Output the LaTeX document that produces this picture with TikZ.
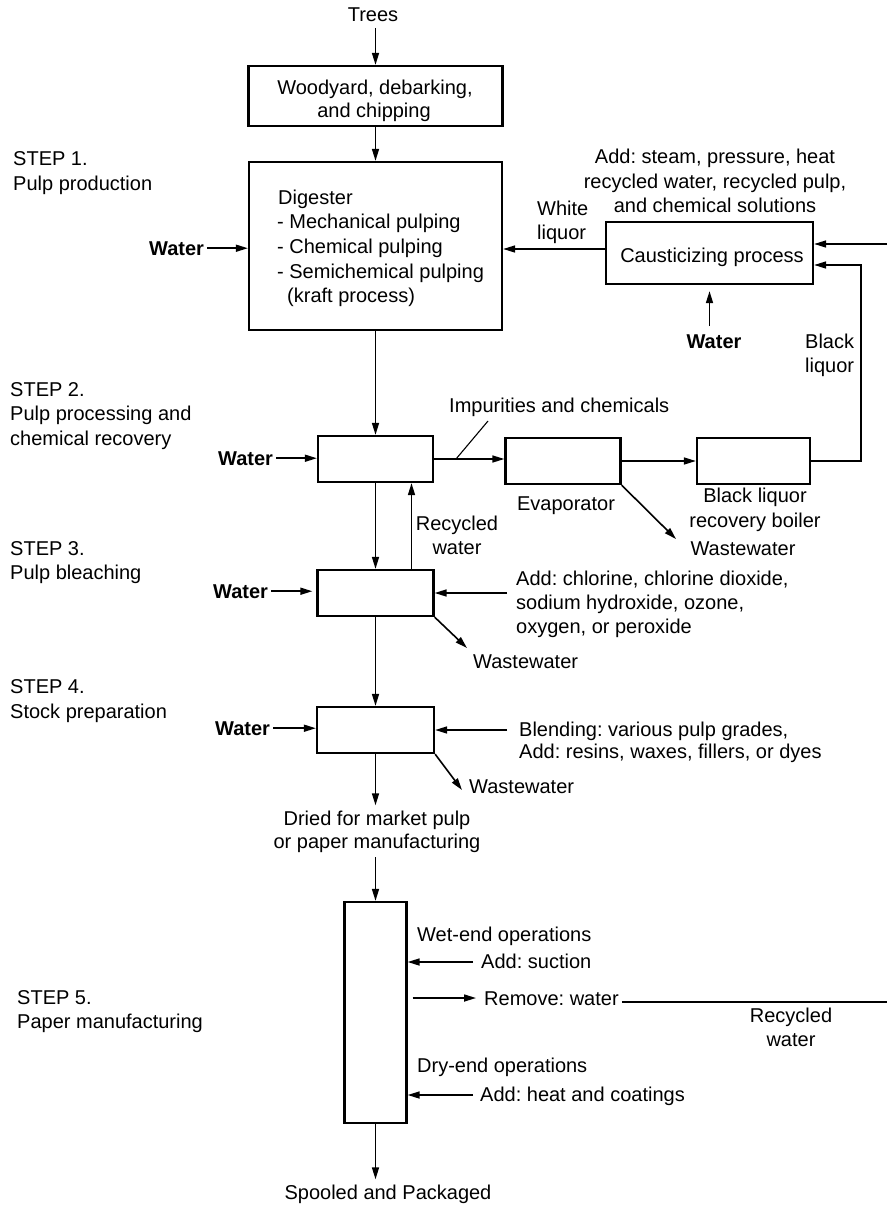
\documentclass[tikz,border=0pt]{standalone}
\usepackage{fontspec}
\setmainfont{Liberation Sans}
\usetikzlibrary{arrows.meta}
\frenchspacing
\tikzset{
  box/.style={draw, line width=2.3pt, inner sep=0pt},
  txt/.style={inner sep=0pt, font=\fontsize{20}{24}\selectfont},
  bw/.style={inner sep=0pt, font=\fontsize{20}{24}\selectfont\bfseries},
  arr/.style={line width=1.6pt, -{Triangle[length=12pt,width=7pt]}},
  ln/.style={line width=1.6pt},
  leader/.style={line width=1.1pt},
}
\begin{document}
\begin{tikzpicture}[x=1pt,y=-1pt]
\useasboundingbox (0,0) rectangle (887,1207);

% ---------- boxes ----------
\node[box, minimum width=254pt, minimum height=60pt] (wood) at (375.5,96) {};
\node[box, minimum width=253pt, minimum height=168pt] (dig) at (375.5,246) {};
\node[box, minimum width=207pt, minimum height=62pt] (caus) at (709.5,253) {};
\node[box, minimum width=115pt, minimum height=46pt] (b2) at (375.5,459) {};
\node[box, minimum width=115pt, minimum height=46pt] (evap) at (563,461) {};
\node[box, minimum width=113pt, minimum height=46pt] (boil) at (753.5,461) {};
\node[box, minimum width=116pt, minimum height=46pt] (b3) at (375.5,593) {};
\node[box, minimum width=117pt, minimum height=46pt] (b4) at (375.5,730) {};
\node[box, minimum width=62pt, minimum height=221pt] (pm) at (375.5,1012.5) {};

% ---------- texts ----------
\node[txt, anchor=base] (trees) at (373,22) {Trees};
\node[txt, anchor=base] (wood1) at (375,95) {Woodyard, debarking,};
\node[txt, anchor=base] (wood2) at (374,117) {and chipping};

\node[txt, anchor=base west] (s1a) at (13,165) {STEP 1.};
\node[txt, anchor=base west] (s1b) at (13,190) {Pulp production};

\node[txt, anchor=base west] (dg1) at (278,204) {Digester};
\node[txt, anchor=base west] (dg2) at (277,228) {- Mechanical pulping};
\node[txt, anchor=base west] (dg3) at (277,253) {- Chemical pulping};
\node[txt, anchor=base west] (dg4) at (277,278) {- Semichemical pulping};
\node[txt, anchor=base west] (dg5) at (287,302) {(kraft process)};

\node[bw, anchor=base west] (w1) at (149,255) {Water};

\node[txt, anchor=base] (add1) at (715,163) {Add: steam, pressure, heat};
\node[txt, anchor=base] (add2) at (715,188) {recycled water, recycled pulp,};
\node[txt, anchor=base] (add3) at (715,212) {and chemical solutions};

\node[txt, anchor=base west] (wl1) at (537,215) {White};
\node[txt, anchor=base west] (wl2) at (537,239) {liquor};

\node[txt, anchor=base] (caust) at (712,262) {Causticizing process};
\node[bw, anchor=base] (wc) at (714,348) {Water};
\node[txt, anchor=base west] (bl1) at (805,348) {Black};
\node[txt, anchor=base west] (bl2) at (805,372) {liquor};

\node[txt, anchor=base west] (s2a) at (10,396) {STEP 2.};
\node[txt, anchor=base west] (s2b) at (10,420) {Pulp processing and};
\node[txt, anchor=base west] (s2c) at (10,445) {chemical recovery};

\node[bw, anchor=base west] (w2) at (218,465) {Water};
\node[txt, anchor=base west] (imp) at (449,412) {Impurities and chemicals};
\node[txt, anchor=base] (evl) at (566,510) {Evaporator};
\node[txt, anchor=base] (bo1) at (755,502) {Black liquor};
\node[txt, anchor=base] (bo2) at (755,527) {recovery boiler};
\node[txt, anchor=base] (wwt1) at (743,555) {Wastewater};
\node[txt, anchor=base] (rc1) at (457,530) {Recycled};
\node[txt, anchor=base] (rc2) at (457,554) {water};

\node[txt, anchor=base west] (s3a) at (10,555) {STEP 3.};
\node[txt, anchor=base west] (s3b) at (10,579) {Pulp bleaching};
\node[bw, anchor=base west] (w3) at (213,598) {Water};
\node[txt, anchor=base west] (ch1) at (516,585) {Add: chlorine, chlorine dioxide,};
\node[txt, anchor=base west] (ch2) at (516,609) {sodium hydroxide, ozone,};
\node[txt, anchor=base west] (ch3) at (516,633) {oxygen, or peroxide};
\node[txt, anchor=base west] (wwt2) at (473,668) {Wastewater};

\node[txt, anchor=base west] (s4a) at (10,693) {STEP 4.};
\node[txt, anchor=base west] (s4b) at (10,718) {Stock preparation};
\node[bw, anchor=base west] (w4) at (215,735) {Water};
\node[txt, anchor=base west] (bd1) at (519,736) {Blending: various pulp grades,};
\node[txt, anchor=base west] (bd2) at (519,758) {Add: resins, waxes, fillers, or dyes};
\node[txt, anchor=base west] (wwt3) at (469,793) {Wastewater};
\node[txt, anchor=base] (dr1) at (377,825) {Dried for market pulp};
\node[txt, anchor=base] (dr2) at (377,848) {or paper manufacturing};

\node[txt, anchor=base west] (s5a) at (17,1004) {STEP 5.};
\node[txt, anchor=base west] (s5b) at (17,1028) {Paper manufacturing};
\node[txt, anchor=base west] (wet) at (417,941) {Wet-end operations};
\node[txt, anchor=base west] (suc) at (481,968) {Add: suction};
\node[txt, anchor=base west] (rem) at (484,1005) {Remove: water};
\node[txt, anchor=base] (rw1) at (791,1022) {Recycled};
\node[txt, anchor=base] (rw2) at (791,1046) {water};
\node[txt, anchor=base west] (dry) at (417,1072) {Dry-end operations};
\node[txt, anchor=base west] (heat) at (480,1101) {Add: heat and coatings};
\node[txt, anchor=base] (spool) at (388,1199) {Spooled and Packaged};

% ---------- free ends ----------
\coordinate (edge1) at (887,244);
\coordinate (blk) at (861,265);
\coordinate (ldA) at (456,459);
\coordinate (ldB) at (488,421);
\coordinate (ww1) at (676,539);
\coordinate (cl) at (507,593);
\coordinate (ww2) at (467,648);
\coordinate (bl) at (507,730);
\coordinate (ww3) at (462,790);
\coordinate (sucA) at (473,962);
\coordinate (rmB) at (476,998);
\coordinate (heatA) at (473,1095);
\coordinate (edge2) at (887,1002);

% ---------- connectors ----------
\draw[arr, shorten <=6pt] (wood.north |- trees.base) -- (wood.north);
\draw[arr] (wood) -- (dig);
\draw[arr, shorten <=3pt] (w1.east) -- (w1.east -| dig.west);
\draw[arr] ([yshift=4pt]caus.west) -- ([yshift=4pt]caus.west -| dig.east);
\draw[arr, shorten <=8pt, shorten >=6pt] (caus.south |- wc.north) -- (caus.south);
\draw[arr] (edge1) -- (edge1 -| caus.east);
\draw[arr] (boil.east) -| (blk) -- (blk -| caus.east);

\draw[arr] (dig) -- (b2);
\draw[arr, shorten <=3pt] (w2.east) -- (w2.east -| b2.west);
\draw[arr] (b2.east) -- (b2.east -| evap.west);
\draw[leader] (ldA) -- (ldB);
\draw[arr] (evap) -- (boil);
\draw[arr] (evap.south east) -- (ww1);

\draw[arr] (b2) -- (b3);
\draw[arr] ([xshift=36pt]b3.north) -- ([xshift=36pt]b2.south);
\draw[arr, shorten <=3pt, shorten >=4pt] (w3.east) -- (w3.east -| b3.west);
\draw[arr] (cl) -- (cl -| b3.east);
\draw[arr] (b3.south east) -- (ww2);

\draw[arr] (b3) -- (b4);
\draw[arr, shorten <=3pt] (w4.east) -- (w4.east -| b4.west);
\draw[arr] (bl) -- (bl -| b4.east);
\draw[arr] (b4.south east) -- (ww3);
\draw[arr, shorten >=5pt] (b4.south) -- (b4.south |- dr1.north);
\draw[arr, shorten <=5pt] (pm.north |- dr2.south) -- (pm.north);

\draw[arr] (sucA) -- (sucA -| pm.east);
\draw[arr, shorten <=5pt] (pm.east |- rmB) -- (rmB);
\draw[ln, shorten <=3pt] (rem.east |- edge2) -- (edge2);
\draw[arr] (heatA) -- (heatA -| pm.east);
\draw[arr, shorten >=5pt] (pm.south) -- (pm.south |- spool.north);
\end{tikzpicture}
\end{document}
